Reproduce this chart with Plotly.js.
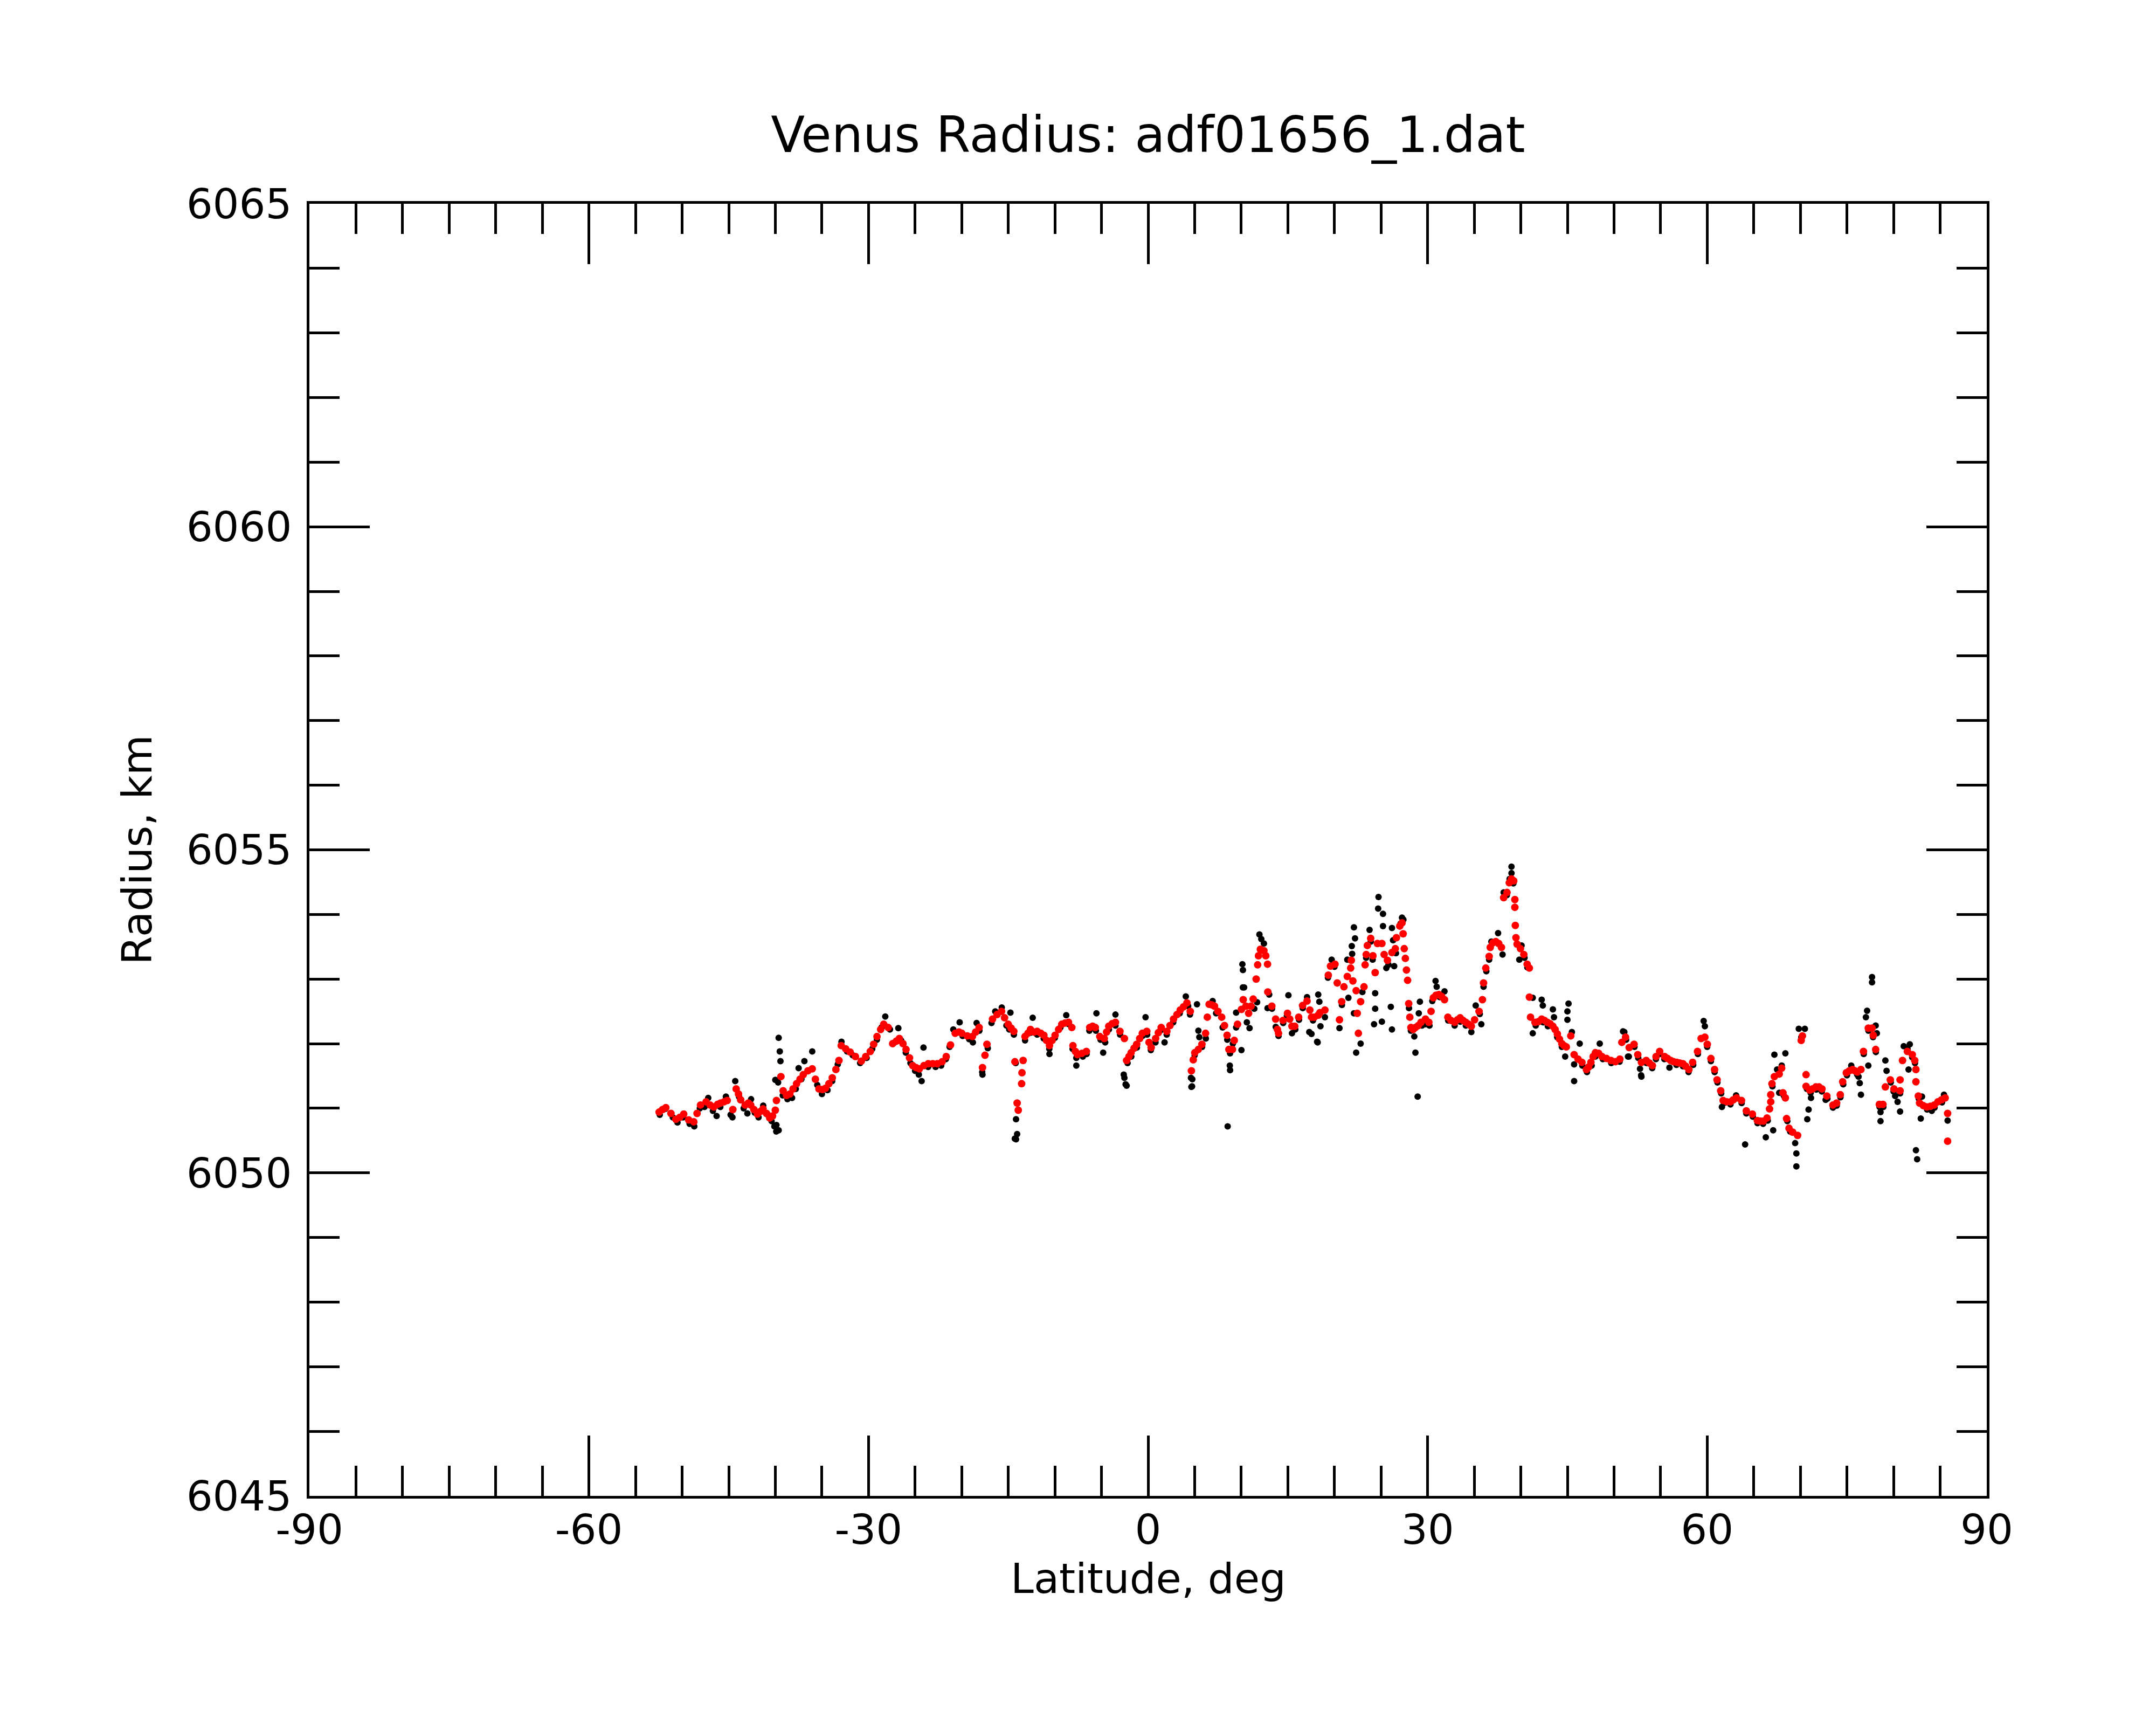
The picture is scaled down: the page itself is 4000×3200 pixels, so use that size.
<!DOCTYPE html>
<html>
<head>
<meta charset="utf-8">
<script src="https://cdn.plot.ly/plotly-3.0.1.min.js"></script>
<style>
  html, body { margin: 0; padding: 0; background: #fff; }
  #plot { width: 4000px; height: 3200px; }
</style>
</head>
<body>
<div id="plot"></div>
<script>
"use strict";

// filtered track (red)
var redLat = [
  -52.47, -52.1, -51.75, -51.2, -50.67, -50.25, -49.83, -49.3, -48.75, -48.4, -48.03, -47.43, -47.0, -46.6, -46.2,
  -45.88, -45.5, -45.16, -44.56, -44.2, -43.95, -43.72, -43.24, -42.9, -42.64, -42.3, -41.92, -41.6, -41.32, -40.95,
  -40.6, -40.3, -40.0, -39.88, -39.4, -39.16, -38.8, -38.44, -38.1, -37.72, -37.35, -37.0, -36.5, -36.04, -35.7,
  -35.32, -34.95, -34.61, -34.25, -33.89, -33.5, -33.17, -32.93, -32.45, -31.97, -31.4, -30.77, -30.3, -29.81, -29.45,
  -29.09, -28.7, -28.37, -27.89, -27.41, -27.0, -26.69, -26.3, -25.97, -25.6, -25.26, -24.9, -24.54, -24.05, -23.58,
  -23.1, -22.62, -22.1, -21.66, -21.2, -20.7, -20.3, -19.98, -19.4, -18.85, -18.5, -18.13, -17.77, -17.5, -17.29,
  -16.69, -16.2, -15.73, -15.4, -15.01, -14.7, -14.41, -14.29, -14.05, -13.93, -13.57, -13.53, -13.41, -13.21, -12.9,
  -12.62, -12.25, -11.9, -11.5, -11.18, -10.9, -10.58, -10.3, -9.98, -9.6, -9.26, -8.9, -8.54, -8.18, -8.06,
  -7.8, -7.58, -7.1, -6.62, -6.26, -5.95, -5.66, -5.18, -4.7, -4.45, -4.22, -3.85, -3.5, -3.02, -2.54,
  -2.3, -2.05, -1.82, -1.5, -1.22, -0.9, -0.62, -0.14, 0.1, 0.33, 0.81, 1.1, 1.41, 2.01, 2.35,
  2.73, 3.1, 3.45, 3.8, 4.17, 4.53, 4.65, 4.85, 5.01, 5.39, 5.78, 6.17, 6.36, 6.55, 6.85,
  7.13, 7.5, 7.9, 8.2, 8.48, 8.67, 9.06, 9.25, 9.6, 10.02, 10.21, 10.5, 10.79, 11.05, 11.28,
  11.6, 11.76, 11.85, 12.05, 12.43, 12.63, 12.82, 12.85, 13.28, 13.69, 13.88, 14.0, 14.48, 14.96, 15.2,
  15.44, 15.74, 16.16, 16.58, 17.06, 17.36, 17.54, 17.84, 18.26, 18.44, 18.98, 19.34, 19.58, 20.06, 20.3,
  20.54, 20.78, 21.02, 21.38, 21.74, 21.81, 21.98, 22.33, 22.45, 22.57, 22.81, 23.17, 23.29, 23.41, 23.53,
  23.89, 24.13, 24.37, 24.61, 25.09, 25.33, 25.69, 26.17, 26.53, 26.65, 27.01, 27.25, 27.37, 27.49, 27.61,
  27.73, 27.85, 27.97, 28.09, 28.21, 28.45, 28.69, 29.0, 29.29, 29.77, 30.13, 30.37, 30.61, 30.9, 31.21,
  31.5, 31.81, 32.17, 32.5, 32.89, 33.2, 33.49, 33.8, 34.09, 34.4, 34.69, 35.04, 35.52, 35.88, 36.0,
  36.24, 36.6, 36.72, 37.0, 37.32, 37.62, 37.92, 38.16, 38.52, 38.76, 39.0, 39.24, 39.36, 39.36, 39.41,
  39.48, 39.6, 39.96, 40.32, 40.68, 40.92, 40.92, 41.04, 41.52, 41.88, 42.24, 42.54, 42.84, 43.14, 43.44,
  43.68, 43.92, 44.15, 44.4, 44.64, 44.88, 45.36, 45.72, 46.14, 46.56, 47.04, 47.28, 47.52, 47.76, 48.0,
  48.35, 48.71, 49.2, 49.67, 50.15, 50.63, 50.84, 51.24, 51.63, 52.15, 52.55, 52.94, 53.46, 53.8, 54.12,
  54.51, 54.9, 55.43, 55.75, 56.08, 56.4, 56.74, 57.05, 57.39, 57.7, 58.04, 58.44, 58.96, 59.35, 59.75,
  60.01, 60.4, 60.79, 61.06, 61.45, 61.71, 62.1, 62.5, 62.8, 63.15, 63.68, 64.2, 64.85, 65.38, 65.7,
  66.03, 66.42, 66.69, 66.82, 66.82, 66.95, 67.21, 67.73, 67.99, 68.13, 68.39, 68.52, 68.78, 69.17, 69.7,
  70.09, 70.22, 70.61, 70.61, 71.01, 71.3, 71.66, 72.0, 72.32, 72.84, 73.49, 73.89, 74.28, 74.54, 74.93,
  75.25, 75.59, 75.85, 76.11, 76.5, 76.77, 77.29, 77.69, 77.82, 78.08, 78.47, 78.86, 79.12, 79.65, 80.04,
  80.7, 80.7, 80.96, 81.48, 82.01, 82.27, 82.4, 82.4, 82.66, 82.79, 83.2, 83.57, 83.95, 84.36, 84.75,
  85.15, 85.54, 85.8, 85.8
];
var redRadius = [
  6050.94, 6050.98, 6051.01, 6050.92, 6050.83, 6050.86, 6050.91, 6050.82, 6050.79, 6050.92, 6051.05, 6051.10, 6051.05, 6051.02, 6051.06,
  6051.08, 6051.10, 6051.12, 6050.98, 6051.30, 6051.22, 6051.13, 6051.05, 6051.08, 6051.05, 6050.98, 6050.91, 6050.95, 6050.99, 6050.92,
  6050.85, 6050.88, 6050.97, 6051.12, 6051.49, 6051.27, 6051.20, 6051.22, 6051.30, 6051.38, 6051.45, 6051.52, 6051.58, 6051.61, 6051.45,
  6051.30, 6051.29, 6051.31, 6051.38, 6051.47, 6051.60, 6051.74, 6051.97, 6051.92, 6051.87, 6051.80, 6051.73, 6051.80, 6051.88, 6051.99,
  6052.11, 6052.22, 6052.30, 6052.25, 6052.00, 6052.04, 6052.08, 6052.00, 6051.91, 6051.78, 6051.66, 6051.63, 6051.61, 6051.66, 6051.69,
  6051.69, 6051.69, 6051.72, 6051.80, 6051.98, 6052.16, 6052.18, 6052.16, 6052.12, 6052.11, 6052.18, 6052.25, 6051.63, 6051.82, 6051.99,
  6052.38, 6052.45, 6052.50, 6052.40, 6052.30, 6052.24, 6052.19, 6051.72, 6051.08, 6050.97, 6051.38, 6051.55, 6051.74, 6052.11, 6052.16,
  6052.22, 6052.18, 6052.19, 6052.16, 6052.13, 6052.05, 6051.97, 6052.05, 6052.13, 6052.22, 6052.30, 6052.32, 6052.33, 6052.25, 6051.97,
  6051.88, 6051.83, 6051.85, 6051.88, 6052.25, 6052.27, 6052.25, 6052.11, 6052.08, 6052.18, 6052.27, 6052.31, 6052.33, 6052.19, 6052.08,
  6051.74, 6051.80, 6051.86, 6051.93, 6051.99, 6052.08, 6052.16, 6052.19, 6052.02, 6051.94, 6052.08, 6052.17, 6052.25, 6052.19, 6052.28,
  6052.38, 6052.45, 6052.52, 6052.57, 6052.63, 6052.50, 6051.58, 6051.75, 6051.86, 6051.91, 6051.99, 6052.16, 6052.41, 6052.61, 6052.60,
  6052.58, 6052.50, 6052.41, 6052.28, 6052.13, 6051.91, 6051.91, 6052.05, 6052.30, 6052.53, 6052.68, 6052.58, 6052.47, 6052.58, 6052.69,
  6053.00, 6053.22, 6053.36, 6053.46, 6053.44, 6053.36, 6053.23, 6052.80, 6052.58, 6052.38, 6052.22, 6052.16, 6052.36, 6052.47, 6052.38,
  6052.27, 6052.27, 6052.41, 6052.59, 6052.66, 6052.52, 6052.41, 6052.41, 6052.44, 6052.48, 6052.52, 6053.06, 6053.20, 6053.23, 6052.94,
  6052.37, 6052.65, 6052.88, 6053.04, 6053.17, 6053.29, 6052.97, 6052.82, 6052.47, 6052.16, 6052.65, 6052.88, 6053.22, 6053.38, 6053.52,
  6053.63, 6053.36, 6053.10, 6053.55, 6053.55, 6053.38, 6053.29, 6053.41, 6053.47, 6053.64, 6053.82, 6053.87, 6053.70, 6053.47, 6053.32,
  6053.14, 6052.98, 6052.62, 6052.41, 6052.25, 6052.22, 6052.25, 6052.28, 6052.33, 6052.38, 6052.33, 6052.50, 6052.71, 6052.75, 6052.76,
  6052.73, 6052.68, 6052.41, 6052.36, 6052.33, 6052.37, 6052.40, 6052.36, 6052.33, 6052.30, 6052.27, 6052.37, 6052.50, 6052.68, 6052.94,
  6053.17, 6053.35, 6053.49, 6053.56, 6053.58, 6053.55, 6053.49, 6054.26, 6054.34, 6054.49, 6054.55, 6054.52, 6054.23, 6054.11, 6053.83,
  6053.64, 6053.54, 6053.47, 6053.38, 6053.23, 6053.17, 6052.72, 6052.41, 6052.33, 6052.34, 6052.38, 6052.36, 6052.33, 6052.31, 6052.27,
  6052.22, 6052.15, 6052.07, 6052.00, 6051.97, 6051.95, 6052.12, 6051.83, 6051.76, 6051.71, 6051.60, 6051.64, 6051.71, 6051.80, 6051.86,
  6051.85, 6051.80, 6051.77, 6051.74, 6051.72, 6051.76, 6052.02, 6052.10, 6051.94, 6051.99, 6051.83, 6051.71, 6051.74, 6051.70, 6051.66,
  6051.80, 6051.88, 6051.80, 6051.77, 6051.74, 6051.72, 6051.71, 6051.70, 6051.69, 6051.65, 6051.60, 6051.71, 6051.88, 6052.08, 6052.10,
  6051.99, 6051.77, 6051.60, 6051.44, 6051.27, 6051.12, 6051.10, 6051.10, 6051.13, 6051.16, 6051.12, 6050.96, 6050.91, 6050.81, 6050.80,
  6050.80, 6050.85, 6050.99, 6051.10, 6051.21, 6051.38, 6051.49, 6051.53, 6051.62, 6051.24, 6051.16, 6050.84, 6050.69, 6050.63, 6050.58,
  6052.05, 6052.12, 6051.52, 6051.34, 6051.28, 6051.30, 6051.33, 6051.33, 6051.30, 6051.19, 6051.05, 6051.08, 6051.21, 6051.41, 6051.55,
  6051.58, 6051.60, 6051.58, 6051.56, 6051.60, 6051.88, 6052.24, 6052.24, 6052.13, 6051.91, 6051.06, 6051.06, 6051.33, 6051.44, 6051.30,
  6051.27, 6051.44, 6051.74, 6051.88, 6051.83, 6051.74, 6051.60, 6051.41, 6051.19, 6051.08, 6051.04, 6051.02, 6051.03, 6051.05, 6051.10,
  6051.13, 6051.16, 6050.92, 6050.49
];

// raw measurements (black)
var blackLat = [
  -52.4, -51.8, -51.0, -50.5, -49.9, -49.2, -48.7, -48.1, -47.6, -47.2, -46.7, -46.3, -45.9, -45.3, -44.8,
  -44.6, -44.3, -43.9, -43.4, -43.0, -42.6, -42.2, -41.8, -41.3, -40.8, -40.4, -40.1, -39.9, -39.88, -39.64,
  -39.64, -39.52, -39.45, -40.0, -39.7, -39.2, -38.7, -38.2, -37.8, -37.5, -37.2, -36.88, -36.04, -35.5, -35.0,
  -34.4, -33.9, -33.3, -32.9, -32.3, -31.7, -30.9, -30.2, -29.6, -29.1, -28.6, -28.2, -27.7, -27.2, -26.8,
  -26.5, -26.0, -25.5, -25.0, -24.6, -24.3, -24.1, -23.6, -22.8, -22.2, -21.7, -21.3, -20.9, -20.22, -19.9,
  -19.2, -18.8, -18.4, -18.1, -17.8, -17.77, -17.2, -16.8, -16.4, -15.7, -15.2, -14.9, -14.77, -14.4, -14.2,
  -14.17, -14.17, -14.05, -14.3, -13.2, -12.6, -12.38, -11.9, -11.2, -10.6, -10.58, -10.0, -9.4, -8.78, -8.5,
  -8.1, -7.7, -7.7, -7.0, -6.6, -6.3, -5.54, -5.6, -5.1, -4.82, -4.6, -4.2, -3.5, -3.5, -3.0,
  -2.61, -2.41, -2.54, -2.3, -2.2, -1.8, -1.2, -0.6, -0.27, -0.1, 0.3, 0.8, 1.3, 1.77, 2.0,
  2.7, 3.4, 4.05, 4.3, 4.5, 4.6, 4.72, 4.65, 4.75, 5.0, 5.25, 5.4, 5.5, 5.8, 6.2,
  6.93, 7.3, 8.0, 8.5, 8.54, 8.77, 8.8, 8.8, 9.1, 9.45, 9.45, 10.02, 10.12, 10.18, 10.31,
  10.17, 10.6, 10.89, 11.4, 11.7, 11.95, 12.15, 12.43, 12.82, 13.0, 13.3, 13.7, 14.0, 14.5, 14.9,
  15.06, 15.44, 15.8, 16.2, 16.6, 17.06, 17.3, 17.54, 17.7, 18.14, 18.26, 18.38, 18.5, 18.98, 18.2,
  19.3, 19.7, 20.0, 20.54, 20.8, 21.38, 21.5, 21.86, 21.9, 22.09, 22.21, 22.09, 22.33, 22.81, 23.0,
  23.4, 23.77, 23.9, 24.1, 24.25, 24.37, 24.37, 24.73, 24.69, 25.21, 25.21, 25.09, 25.57, 25.8, 26.05,
  26.17, 26.17, 26.29, 26.41, 26.6, 27.1, 27.25, 27.4, 28.0, 28.2, 28.57, 28.69, 28.93, 29.05, 29.17,
  29.4, 29.8, 30.2, 30.5, 30.85, 30.97, 31.3, 31.81, 32.2, 32.9, 33.5, 34.1, 34.69, 35.16, 35.76,
  35.6, 36.0, 36.3, 36.6, 36.84, 37.56, 38.04, 38.16, 38.5, 38.8, 39.0, 39.0, 39.2, 39.84, 40.08,
  40.4, 40.7, 41.28, 41.28, 41.6, 42.24, 42.36, 42.4, 42.9, 43.44, 43.56, 43.9, 44.4, 44.76, 45.0,
  45.0, 45.12, 45.48, 45.72, 45.72, 46.32, 46.6, 47.1, 47.6, 48.0, 48.47, 48.8, 49.7, 50.6, 50.97,
  51.11, 51.3, 51.5, 51.59, 52.2, 52.6, 52.79, 52.91, 52.94, 53.5, 54.1, 54.5, 54.9, 55.4, 55.95,
  56.7, 57.4, 58.0, 58.5, 59.0, 59.62, 59.75, 60.0, 60.4, 60.8, 61.1, 61.5, 61.58, 61.8, 62.5,
  63.1, 63.7, 64.07, 64.2, 64.9, 65.4, 66.0, 66.29, 66.5, 67.08, 67.0, 67.21, 67.5, 67.73, 68.0,
  68.39, 68.2, 68.6, 68.9, 69.44, 69.57, 69.57, 69.83, 70.1, 70.48, 70.74, 70.88, 71.14, 70.7, 71.1,
  71.7, 72.3, 72.71, 72.9, 73.5, 73.9, 74.3, 74.6, 75.0, 75.46, 76.1, 76.24, 76.37, 76.5, 76.8,
  77.03, 77.16, 77.29, 77.3, 77.69, 77.69, 77.8, 78.08, 78.21, 78.1, 78.5, 78.6, 78.6, 78.9, 79.12,
  79.25, 79.7, 80.0, 80.17, 80.43, 80.7, 80.7, 81.09, 81.61, 81.74, 81.5, 82.0, 82.3, 82.4, 82.53,
  82.7, 82.92, 83.05, 83.6, 84.1, 84.4, 85.2, 85.41, 85.8
];
var blackRadius = [
  6050.90, 6050.99, 6050.86, 6050.78, 6050.86, 6050.76, 6050.72, 6051.00, 6051.02, 6051.16, 6050.96, 6050.88, 6051.02, 6051.18, 6050.90,
  6050.86, 6051.42, 6051.18, 6051.00, 6050.92, 6051.14, 6050.93, 6050.86, 6051.04, 6050.90, 6050.80, 6050.72, 6050.64, 6050.74, 6050.66,
  6052.09, 6051.88, 6051.73, 6051.44, 6051.40, 6051.20, 6051.14, 6051.16, 6051.30, 6051.62, 6051.45, 6051.73, 6051.88, 6051.36, 6051.22,
  6051.28, 6051.42, 6051.68, 6052.03, 6051.88, 6051.82, 6051.70, 6051.78, 6051.92, 6052.06, 6052.25, 6052.42, 6052.22, 6052.02, 6052.24,
  6052.05, 6051.86, 6051.70, 6051.58, 6051.52, 6051.42, 6051.94, 6051.64, 6051.64, 6051.66, 6051.76, 6051.95, 6052.22, 6052.33, 6052.12,
  6052.07, 6052.02, 6052.32, 6052.20, 6051.56, 6051.52, 6051.93, 6052.32, 6052.50, 6052.56, 6052.28, 6052.22, 6052.48, 6052.14, 6051.70,
  6050.83, 6050.52, 6050.60, 6050.53, 6052.05, 6052.17, 6052.40, 6052.14, 6052.08, 6051.92, 6051.84, 6052.09, 6052.25, 6052.44, 6052.30,
  6051.92, 6051.78, 6051.66, 6051.80, 6051.84, 6052.20, 6052.47, 6052.20, 6052.06, 6051.86, 6052.02, 6052.22, 6052.28, 6052.45, 6052.14,
  6051.52, 6051.37, 6051.47, 6051.35, 6051.70, 6051.80, 6051.94, 6052.12, 6052.41, 6052.14, 6051.90, 6052.02, 6052.20, 6052.02, 6052.14,
  6052.33, 6052.47, 6052.73, 6052.58, 6052.45, 6051.47, 6051.34, 6051.33, 6051.45, 6051.82, 6052.61, 6052.20, 6052.10, 6051.95, 6052.08,
  6052.66, 6052.47, 6052.25, 6052.06, 6050.72, 6051.66, 6051.59, 6051.85, 6052.00, 6052.25, 6052.48, 6051.90, 6053.23, 6053.14, 6052.87,
  6052.87, 6052.33, 6052.24, 6052.54, 6052.64, 6053.69, 6053.62, 6053.55, 6052.55, 6052.76, 6052.54, 6052.26, 6052.12, 6052.32, 6052.43,
  6052.75, 6052.16, 6052.22, 6052.37, 6052.55, 6052.72, 6052.18, 6052.15, 6052.36, 6052.03, 6052.76, 6052.65, 6052.27, 6052.41, 6052.02,
  6053.02, 6053.30, 6053.19, 6052.24, 6052.60, 6053.30, 6052.71, 6053.51, 6053.39, 6053.80, 6053.63, 6052.47, 6051.86, 6052.00, 6052.80,
  6053.33, 6053.76, 6053.58, 6053.30, 6052.30, 6052.78, 6052.54, 6054.27, 6054.09, 6054.01, 6053.82, 6052.34, 6053.17, 6053.22, 6052.57,
  6052.22, 6053.79, 6053.60, 6053.20, 6053.40, 6053.86, 6053.95, 6053.92, 6052.55, 6052.20, 6052.11, 6051.86, 6051.18, 6052.47, 6052.65,
  6052.28, 6052.30, 6052.28, 6052.66, 6052.97, 6052.88, 6052.72, 6052.81, 6052.36, 6052.28, 6052.34, 6052.28, 6052.18, 6052.59, 6052.30,
  6052.46, 6052.88, 6053.12, 6053.30, 6053.58, 6053.71, 6053.38, 6054.34, 6054.30, 6054.55, 6054.74, 6054.64, 6054.48, 6053.30, 6053.52,
  6053.33, 6053.18, 6052.71, 6052.16, 6052.28, 6052.68, 6052.59, 6052.33, 6052.27, 6052.53, 6052.41, 6052.10, 6051.95, 6051.80, 6052.50,
  6052.37, 6052.62, 6052.18, 6051.68, 6051.42, 6052.00, 6051.66, 6051.56, 6051.66, 6051.80, 6052.00, 6051.76, 6051.70, 6051.72, 6052.19,
  6052.18, 6052.06, 6051.80, 6051.80, 6051.95, 6051.78, 6051.61, 6051.51, 6051.49, 6051.70, 6051.62, 6051.76, 6051.84, 6051.76, 6051.63,
  6051.67, 6051.65, 6051.56, 6051.67, 6051.84, 6052.35, 6052.27, 6051.95, 6051.73, 6051.56, 6051.40, 6051.23, 6051.02, 6051.08, 6051.06,
  6051.20, 6051.08, 6050.44, 6050.92, 6050.87, 6050.77, 6050.76, 6050.55, 6050.81, 6050.66, 6051.34, 6051.83, 6051.60, 6051.24, 6051.66,
  6051.85, 6051.20, 6050.80, 6050.64, 6050.46, 6050.30, 6050.10, 6052.23, 6052.10, 6052.23, 6050.83, 6050.98, 6051.16, 6051.30, 6051.24,
  6051.29, 6051.26, 6051.13, 6051.15, 6051.01, 6051.04, 6051.17, 6051.37, 6051.51, 6051.66, 6051.52, 6051.49, 6051.39, 6051.21, 6051.84,
  6052.41, 6052.51, 6051.66, 6052.20, 6052.95, 6053.03, 6052.10, 6052.28, 6052.16, 6051.87, 6051.02, 6050.94, 6050.80, 6051.02, 6051.74,
  6051.58, 6051.40, 6051.26, 6051.19, 6051.10, 6050.95, 6051.23, 6051.96, 6051.60, 6051.99, 6051.92, 6051.79, 6051.70, 6050.35, 6050.21,
  6051.15, 6050.84, 6051.18, 6050.98, 6050.96, 6051.01, 6051.09, 6051.21, 6050.81
];

// tick labels use a plain hyphen, as in the original plot
var xTickVals = [-90, -60, -30, 0, 30, 60, 90];
var xTickText = ["-90", "-60", "-30", "0", "30", "60", "90"];

var FONT = "DejaVu Sans";

var traces = [
  {
    type: "scatter", mode: "markers",
    x: blackLat, y: blackRadius,
    marker: {color: "#000000", size: 12, line: {width: 0}},
    hoverinfo: "skip", showlegend: false
  },
  {
    type: "scatter", mode: "markers",
    x: redLat, y: redRadius,
    marker: {color: "#ff0000", size: 14, line: {width: 0}},
    hoverinfo: "skip", showlegend: false
  }
];

var axisCommon = {
  ticks: "inside", tickwidth: 5, tickcolor: "#000",
  mirror: "allticks", showline: true, linewidth: 5, linecolor: "#000",
  showgrid: false, zeroline: false,
  tickfont: {family: FONT, size: 77, color: "#000"}
};

var layout = {
  width: 4000, height: 3200,
  paper_bgcolor: "#ffffff", plot_bgcolor: "#ffffff",
  margin: {l: 574, r: 314, t: 378, b: 425, pad: 0},
  showlegend: false,
  title: {
    text: "Venus Radius: adf01656_1.dat",
    font: {family: FONT, size: 92, color: "#000"},
    x: 0.5, xref: "paper", xanchor: "center",
    y: 0.922, yref: "container", yanchor: "middle"
  },
  xaxis: Object.assign({}, axisCommon, {
    range: [-90, 90], tickmode: "array", tickvals: xTickVals, ticktext: xTickText,
    ticklen: 112, ticklabelstandoff: -8,
    minor: {tickmode: "linear", tick0: -90, dtick: 5, ticks: "inside", ticklen: 56,
            tickwidth: 5, tickcolor: "#000", showgrid: false}
  }),
  yaxis: Object.assign({}, axisCommon, {
    range: [6045, 6065], tickmode: "linear", tick0: 6045, dtick: 5,
    ticklen: 112, ticklabelstandoff: 12,
    minor: {tickmode: "linear", tick0: 6045, dtick: 1, ticks: "inside", ticklen: 56,
            tickwidth: 5, tickcolor: "#000", showgrid: false},
    title: {text: "Radius, km", font: {family: FONT, size: 77, color: "#000"}, standoff: 40}
  }),
  // x-axis title placed as an annotation so it can sit close under the tick labels
  annotations: [{
    text: "Latitude, deg", showarrow: false,
    xref: "paper", x: 0.5, xanchor: "center",
    yref: "paper", y: -0.064, yanchor: "middle",
    font: {family: FONT, size: 77, color: "#000"}
  }]
};

Plotly.newPlot("plot", traces, layout, {staticPlot: true, displayModeBar: false});
</script>
</body>
</html>
